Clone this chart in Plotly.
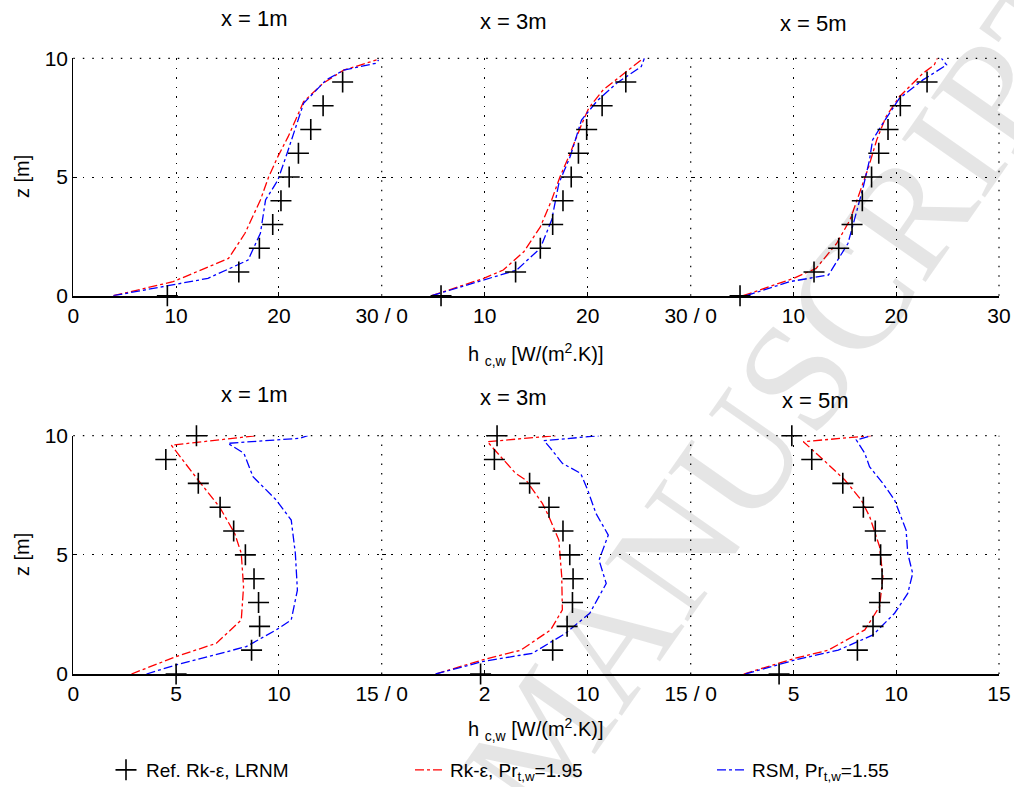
import plotly.graph_objects as go

# ---------------- data ----------------
# Top row (x = 1m, 3m, 5m), h_c,w in W/(m2.K) vs z [m]
ref_z = [0, 1, 2, 3, 4, 5, 6, 7, 8, 9]
ref_top_1 = [9.15, 16.1, 18.1, 19.4, 20.2, 21.0, 21.9, 23.1, 24.3, 26.2]
ref_top_3 = [5.76, 13.0, 15.4, 16.6, 17.6, 18.4, 19.1, 19.9, 21.4, 23.7]
ref_top_5 = [4.8, 12.0, 14.4, 15.7, 16.7, 17.6, 18.3, 19.2, 20.4, 23.0]

rk_top_1_h = [3.9, 9.7, 15.1, 16.7, 18.2, 19.0, 19.9, 20.9, 22.4, 24.3, 26.3, 29.5]
rk_top_1_z = [0, 0.59, 1.57, 2.63, 4.03, 5.0, 5.86, 6.7, 8.17, 8.95, 9.5, 9.93]
rsm_top_1_h = [3.9, 9.4, 13.1, 17.0, 18.2, 18.7, 19.9, 20.8, 22.4, 24.6, 26.3, 29.4, 29.7]
rsm_top_1_z = [0, 0.45, 0.73, 1.5, 2.63, 4.03, 4.87, 6.0, 8.1, 9.09, 9.5, 9.79, 9.93]

rk_top_3_h = [4.85, 9.9, 11.8, 13.8, 15.4, 16.5, 17.3, 18.3, 19.3, 20.1, 21.5, 23.5, 25.4]
rk_top_3_z = [0, 0.73, 1.08, 1.85, 2.9, 4.03, 5.0, 6.0, 7.1, 7.9, 8.67, 9.37, 10.0]
rsm_top_3_h = [4.85, 9.9, 13.1, 15.4, 16.5, 17.2, 18.3, 19.4, 20.9, 22.8, 25.2, 25.5]
rsm_top_3_z = [0, 0.66, 1.08, 2.0, 3.19, 4.73, 5.86, 7.4, 8.2, 8.95, 9.65, 10.0]

rk_top_5_h = [5.1, 10.0, 12.2, 14.2, 15.5, 16.6, 17.3, 18.1, 19.0, 20.3, 22.6, 23.7, 24.0]
rk_top_5_z = [0, 0.73, 1.15, 2.2, 3.19, 4.6, 5.4, 6.56, 7.54, 8.38, 9.37, 9.72, 10.0]
rsm_top_5_h = [5.4, 9.6, 13.4, 14.5, 15.3, 16.1, 16.8, 17.4, 17.7, 18.7, 20.3, 22.6, 24.9, 24.4]
rsm_top_5_z = [0, 0.59, 0.87, 1.64, 2.2, 3.47, 4.6, 5.72, 6.56, 7.26, 8.31, 9.09, 9.72, 10.0]

# Bottom row
ref_bot_z = [0, 1, 2, 3, 4, 5, 6, 7, 8, 9, 10]
ref_bot_1 = [5.0, 8.67, 9.06, 9.01, 8.79, 8.37, 7.8, 7.14, 6.08, 4.5, 5.99]
ref_bot_3 = [4.8, 8.3, 9.0, 9.26, 9.29, 9.13, 8.8, 8.12, 7.18, 5.47, 5.6]
ref_bot_5 = [4.3, 8.11, 8.87, 9.19, 9.31, 9.24, 8.98, 8.4, 7.4, 5.89, 4.92]

rk_bot_1_h = [2.83, 5.0, 6.96, 8.17, 8.28, 8.17, 7.85, 7.12, 6.07, 4.77, 8.9]
rk_bot_1_z = [0, 0.73, 1.29, 2.27, 3.66, 5.06, 5.9, 7.0, 8.14, 9.6, 10.0]
rsm_bot_1_h = [3.56, 5.0, 8.41, 9.87, 10.6, 10.9, 10.8, 10.6, 9.87, 8.74, 8.3, 7.52, 11.0, 11.4]
rsm_bot_1_z = [0, 0.38, 1.15, 1.85, 2.27, 3.52, 5.06, 6.46, 7.3, 8.28, 9.26, 9.68, 9.89, 10.0]

rk_bot_3_h = [2.62, 4.89, 6.75, 8.2, 8.77, 8.74, 8.6, 8.12, 7.8, 7.0, 6.5, 5.13, 8.45]
rk_bot_3_z = [0, 0.59, 1.0, 1.85, 2.69, 4.08, 5.62, 6.6, 7.16, 8.14, 8.42, 9.75, 10.0]
rsm_bot_3_h = [2.62, 4.89, 7.31, 8.93, 10.1, 10.9, 10.55, 11.0, 10.4, 10.0, 9.66, 8.77, 8.2, 7.88, 10.55]
rsm_bot_3_z = [0, 0.52, 0.87, 1.71, 2.55, 3.8, 4.78, 5.83, 6.74, 7.72, 8.42, 8.84, 9.47, 9.79, 10.0]

rk_bot_5_h = [2.58, 5.08, 6.69, 8.47, 9.19, 9.35, 9.19, 8.71, 8.3, 7.5, 6.29, 5.48, 8.79]
rk_bot_5_z = [0, 0.66, 1.0, 1.85, 2.83, 4.08, 5.34, 6.6, 7.3, 8.14, 9.12, 9.75, 10.0]
rsm_bot_5_h = [2.66, 5.08, 7.18, 8.87, 9.92, 10.56, 10.8, 10.56, 10.48, 9.92, 9.35, 8.7, 8.47, 8.06, 8.79]
rsm_bot_5_z = [0, 0.59, 1.0, 1.64, 2.55, 3.38, 4.22, 5.06, 6.04, 7.3, 8.0, 8.7, 9.26, 9.82, 10.0]

panel_titles = ["x = 1m", "x = 3m", "x = 5m"]
y_ticks = [0, 5, 10]
top_tickvals = [[0, 10, 20], [0, 10, 20], [0, 10, 20, 30]]
top_ticktext = [["0", "10", "20"], ["30 / 0", "10", "20"], ["30 / 0", "10", "20", "30"]]
bot_tickvals = [[0, 5, 10], [0, 5, 10], [0, 5, 10, 15]]
bot_ticktext = [["0", "5", "10"], ["15 / 0", "2", "10"], ["15 / 0", "5", "10", "15"]]
legend_names = ["Ref. Rk-ε, LRNM", "Rk-ε, Pr<sub>t,w</sub>=1.95", "RSM, Pr<sub>t,w</sub>=1.55"]
x_label = "h <sub>c,w</sub> [W/(m<sup>2</sup>.K)]"
y_label = "z [m]"
watermark = "ACCEPTED MANUSCRIPT"

W, H = 1014, 787
FONT = "Liberation Sans, Arial, sans-serif"
DOT = "1.5px,8px"

xdom_px = [(73.3, 381.7), (381.7, 690.7), (690.7, 999.0)]
ydom_px = [(58.3, 295.7), (435.7, 674.0)]

fig = go.Figure()

# faint watermark
fig.add_annotation(text=watermark, x=545 / W, y=1 - 735 / H, xref="paper", yref="paper",
                   xanchor="center", yanchor="middle", showarrow=False, textangle=-55,
                   font=dict(family="Liberation Serif, serif", size=155, color="rgba(0,0,0,0.10)"))

panels = [
    (ref_z, ref_top_1, rk_top_1_h, rk_top_1_z, rsm_top_1_h, rsm_top_1_z),
    (ref_z, ref_top_3, rk_top_3_h, rk_top_3_z, rsm_top_3_h, rsm_top_3_z),
    (ref_z, ref_top_5, rk_top_5_h, rk_top_5_z, rsm_top_5_h, rsm_top_5_z),
    (ref_bot_z, ref_bot_1, rk_bot_1_h, rk_bot_1_z, rsm_bot_1_h, rsm_bot_1_z),
    (ref_bot_z, ref_bot_3, rk_bot_3_h, rk_bot_3_z, rsm_bot_3_h, rsm_bot_3_z),
    (ref_bot_z, ref_bot_5, rk_bot_5_h, rk_bot_5_z, rsm_bot_5_h, rsm_bot_5_z),
]

shapes = []
for i, (rz, rh, kh, kz, sh, sz) in enumerate(panels):
    n = i + 1
    xa = "x" if n == 1 else f"x{n}"
    ya = "y" if n == 1 else f"y{n}"
    first = (i == 0)
    fig.add_trace(go.Scatter(x=kh, y=kz, mode="lines", xaxis=xa, yaxis=ya,
                             line=dict(color="#ff0000", width=1.3, dash="dashdot"),
                             name=legend_names[1], legend="legend2", showlegend=first))
    fig.add_trace(go.Scatter(x=sh, y=sz, mode="lines", xaxis=xa, yaxis=ya,
                             line=dict(color="#0000ff", width=1.3, dash="dashdot"),
                             name=legend_names[2], legend="legend3", showlegend=first))
    fig.add_trace(go.Scatter(x=rh, y=rz, mode="markers", xaxis=xa, yaxis=ya, cliponaxis=False,
                             marker=dict(symbol="cross-thin", size=15, line=dict(color="black", width=1.6)),
                             name=legend_names[0], legend="legend", showlegend=first))

    row = 0 if i < 3 else 1
    col = i % 3
    x0, x1 = xdom_px[col]
    y0, y1 = ydom_px[row]
    xk = "xaxis" if n == 1 else f"xaxis{n}"
    yk = "yaxis" if n == 1 else f"yaxis{n}"
    if row == 0:
        rng = [0, 30]; tv = top_tickvals[col]; tt = top_ticktext[col]
    else:
        rng = [0, 15]; tv = bot_tickvals[col]; tt = bot_ticktext[col]
    fig.layout[xk] = dict(domain=[x0 / W, x1 / W], anchor=ya, range=rng, automargin=False,
                          tickvals=tv, ticktext=tt, ticks="inside", ticklen=4, tickcolor="black",
                          showgrid=True, gridcolor="black", griddash=DOT, gridwidth=1.2,
                          showline=True, linecolor="black", linewidth=1.5, mirror=False,
                          zeroline=False, tickfont=dict(family=FONT, size=21, color="black"))
    fig.layout[yk] = dict(domain=[1 - y1 / H, 1 - y0 / H], anchor=xa, range=[0, 10], automargin=False,
                          tickvals=y_ticks, ticks="inside", ticklen=4, tickcolor="black",
                          showticklabels=(col == 0),
                          showgrid=True, gridcolor="black", griddash=DOT, gridwidth=1.2,
                          showline=(col == 0), linecolor="black", linewidth=1.2,
                          zeroline=False, tickfont=dict(family=FONT, size=21, color="black"))
    # dotted frame at top and right edge (grid lines at range ends)
    shapes.append(dict(type="line", xref="paper", yref="paper", x0=x0 / W, x1=x1 / W,
                       y0=1 - y0 / H, y1=1 - y0 / H, line=dict(color="black", width=1.2, dash=DOT)))
    shapes.append(dict(type="line", xref="paper", yref="paper", x0=x1 / W, x1=x1 / W,
                       y0=1 - y1 / H, y1=1 - y0 / H, line=dict(color="black", width=1.2, dash=DOT)))

# panel titles
title_pos = [[(254, 19), (513, 21), (813, 23)], [(254, 395), (513, 398), (815, 401)]]
for r in range(2):
    for c in range(3):
        px, py = title_pos[r][c]
        fig.add_annotation(text=panel_titles[c], x=px / W, y=1 - py / H, xref="paper", yref="paper",
                           xanchor="center", yanchor="middle",
                           showarrow=False, font=dict(family=FONT, size=22, color="black"))

# axis labels
for py in (177, 555):
    fig.add_annotation(text=y_label, x=22 / W, y=1 - py / H, xref="paper", yref="paper",
                       xanchor="center", yanchor="middle",
                       showarrow=False, textangle=-90, font=dict(family=FONT, size=20, color="black"))
for py in (354, 729):
    fig.add_annotation(text=x_label, x=535 / W, y=1 - py / H,
                       xref="paper", yref="paper", xanchor="center", yanchor="middle", showarrow=False,
                       font=dict(family=FONT, size=20, color="black"))

leg_common = dict(orientation="h", y=1 - 751 / H, xanchor="left", yanchor="top",
                  bgcolor="rgba(0,0,0,0)", font=dict(family=FONT, size=19, color="black"))

fig.update_layout(
    template="none",
    width=W, height=H,
    margin=dict(l=0, r=0, t=0, b=0, autoexpand=False),
    paper_bgcolor="white", plot_bgcolor="white",
    shapes=shapes,
    showlegend=True,
    legend=dict(x=106 / W, **leg_common),
    legend2=dict(x=410 / W, **leg_common),
    legend3=dict(x=712 / W, **leg_common),
)

fig.write_html("out.html", config={"displayModeBar": False},
               post_script="document.body.style.margin='0px';document.body.style.overflow='hidden';")
